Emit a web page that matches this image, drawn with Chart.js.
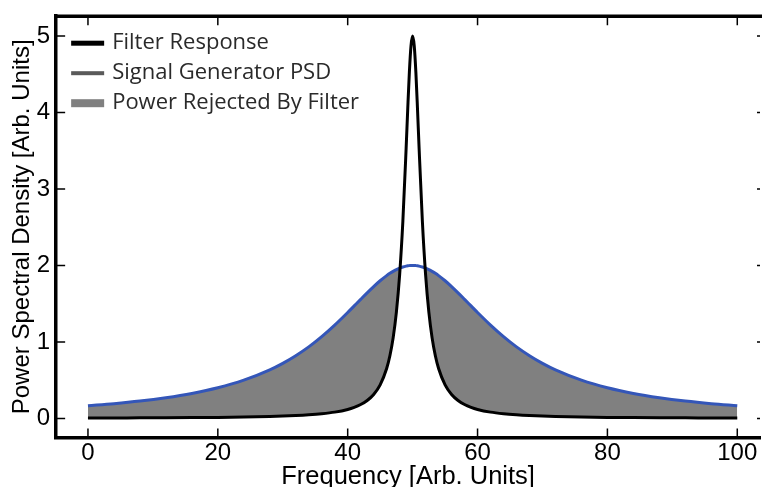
<!DOCTYPE html>
<html lang="en">
<head>
    <meta charset="UTF-8">
    <title>Filter Response vs PSD</title>
    <script src="https://cdn.jsdelivr.net/npm/chart.js"></script>
    <style>
        body {
            margin: 0;
            padding: 0;
            background-color: #ffffff;
        }

        #chart-box {
            width: 762px;
            height: 487px;
        }
    </style>
</head>
<body>
    <div id="chart-box">
        <canvas id="psd-chart"></canvas>
    </div>
    <script>
        // Frequency samples [Arb. Units]
        const freq = [0, 4, 8, 12, 16, 20, 24, 28, 30, 32, 34, 36, 38, 40, 41, 42, 43, 44, 45, 46, 46.5, 47, 47.5, 48, 48.5, 49, 49.25, 49.5, 49.75,
            50, 50.25, 50.5, 50.75, 51, 51.5, 52, 52.5, 53, 53.5, 54, 55, 56, 57, 58, 59, 60, 62, 64, 66, 68, 70, 72, 76, 80, 84, 88, 92, 96, 100];

        // Filter response (narrow peak)
        const filterResponse = [0.005, 0.006, 0.007, 0.008, 0.010, 0.013, 0.018, 0.025, 0.030, 0.037, 0.047, 0.061, 0.082, 0.117, 0.144, 0.181, 0.234, 0.313, 0.439, 0.653, 0.820, 1.053, 1.389, 1.876, 2.581, 3.531, 4.052, 4.529, 4.873,
            5.0, 4.873, 4.529, 4.052, 3.531, 2.581, 1.876, 1.389, 1.053, 0.820, 0.653, 0.439, 0.313, 0.234, 0.181, 0.144, 0.117, 0.082, 0.061, 0.047, 0.037, 0.030, 0.025, 0.018, 0.013, 0.010, 0.008, 0.007, 0.006, 0.005];

        // Signal generator PSD (broad peak)
        const generatorPSD = [0.165, 0.192, 0.226, 0.270, 0.326, 0.400, 0.500, 0.635, 0.720, 0.820, 0.935, 1.069, 1.220, 1.385, 1.471, 1.557, 1.642, 1.724, 1.800, 1.867, 1.897, 1.923, 1.946, 1.965, 1.980, 1.991, 1.995, 1.998, 2.0,
            2.0, 2.0, 1.998, 1.995, 1.991, 1.980, 1.965, 1.946, 1.923, 1.897, 1.867, 1.800, 1.724, 1.642, 1.557, 1.471, 1.385, 1.220, 1.069, 0.935, 0.820, 0.720, 0.635, 0.500, 0.400, 0.326, 0.270, 0.226, 0.192, 0.165];

        const xTicks = [0, 20, 40, 60, 80, 100];
        const yTicks = [0, 1, 2, 3, 4, 5];

        const legendItems = [
            { text: "Filter Response", color: "#000000", width: 5 },
            { text: "Signal Generator PSD", color: "#5a5a5a", width: 4 },
            { text: "Power Rejected By Filter", color: "#808080", width: 8 }
        ];

        const axisFont = "'Liberation Sans', Arial, sans-serif";

        // inward tick marks, top frame line and the legend
        const framePlugin = {
            id: "frame",
            afterDraw(chart) {
                const ctx = chart.ctx;
                const area = chart.chartArea;
                const xs = chart.scales.x;
                const ys = chart.scales.y;
                ctx.save();
                ctx.strokeStyle = "#000";
                ctx.lineWidth = 1.5;
                ctx.beginPath();
                xTicks.forEach(v => {
                    const px = xs.getPixelForValue(v);
                    ctx.moveTo(px, area.bottom);
                    ctx.lineTo(px, area.bottom - 9);
                    ctx.moveTo(px, area.top);
                    ctx.lineTo(px, area.top + 9);
                });
                yTicks.forEach(v => {
                    const py = ys.getPixelForValue(v);
                    ctx.moveTo(area.left, py);
                    ctx.lineTo(area.left + 9, py);
                    ctx.moveTo(area.right, py);
                    ctx.lineTo(area.right - 3, py);
                });
                ctx.stroke();

                ctx.lineWidth = 3.5;
                ctx.beginPath();
                ctx.moveTo(area.left - 1.5, area.top);
                ctx.lineTo(chart.width, area.top);
                ctx.stroke();

                // legend
                ctx.font = "22px 'Open Sans', sans-serif";
                ctx.textBaseline = "middle";
                legendItems.forEach((item, i) => {
                    const y = area.top + 27 + i * 30;
                    ctx.fillStyle = item.color;
                    ctx.fillRect(area.left + 15, y - item.width / 2, 33, item.width);
                    ctx.fillStyle = "#2a2a2a";
                    ctx.fillText(item.text, area.left + 56, y);
                });
                ctx.restore();
            }
        };

        new Chart(document.getElementById("psd-chart").getContext("2d"), {
            type: "line",
            data: {
                datasets: [{
                    label: "Filter Response",
                    data: freq.map((f, i) => ({ x: f, y: filterResponse[i] })),
                    borderColor: "#000000",
                    borderWidth: 3,
                    pointRadius: 0,
                    cubicInterpolationMode: "monotone",
                    fill: false,
                    order: 0
                }, {
                    label: "Signal Generator PSD",
                    data: freq.map((f, i) => ({ x: f, y: generatorPSD[i] })),
                    borderColor: "#3456b8",
                    borderWidth: 3,
                    pointRadius: 0,
                    cubicInterpolationMode: "monotone",
                    fill: { target: 0, above: "#808080", below: "rgba(0,0,0,0)" },
                    order: 1
                }]
            },
            options: {
                responsive: true,
                maintainAspectRatio: false,
                animation: false,
                events: [],
                layout: { padding: { top: 0, right: 2, left: 0, bottom: 0 } },
                plugins: {
                    legend: { display: false },
                    tooltip: { enabled: false }
                },
                scales: {
                    x: {
                        type: "linear",
                        min: -4.9,
                        max: 103.5,
                        afterBuildTicks: axis => { axis.ticks = xTicks.map(v => ({ value: v })); },
                        grid: { display: false, drawTicks: false },
                        border: { display: true, color: "#000", width: 3.5 },
                        ticks: { color: "#000", padding: 4, font: { family: axisFont, size: 24, lineHeight: 1 } },
                        title: {
                            display: true,
                            text: "Frequency [Arb. Units]",
                            color: "#000",
                            padding: { top: -5, bottom: -3 },
                            font: { family: axisFont, size: 25.5, lineHeight: 1 }
                        }
                    },
                    y: {
                        min: -0.25,
                        max: 5.26,
                        afterBuildTicks: axis => { axis.ticks = yTicks.map(v => ({ value: v })); },
                        grid: { display: false, drawTicks: false },
                        border: { display: true, color: "#000", width: 3.5 },
                        ticks: { color: "#000", padding: 6, font: { family: axisFont, size: 24, lineHeight: 0.85 } },
                        title: {
                            display: true,
                            text: "Power Spectral Density [Arb. Units]",
                            color: "#000",
                            padding: { top: 8, bottom: -6 },
                            font: { family: axisFont, size: 24 }
                        }
                    }
                }
            },
            plugins: [framePlugin]
        });
    </script>
</body>
</html>
